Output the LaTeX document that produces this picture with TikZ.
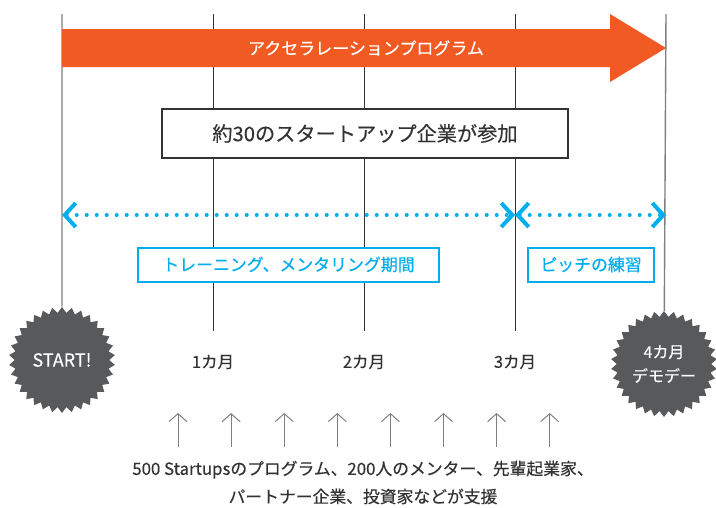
\documentclass[tikz,border=0pt]{standalone}
\usepackage{fontspec}
\setmainfont{Noto Sans CJK JP}[FakeBold=0.3]
\usetikzlibrary{arrows.meta,shapes.geometric}
\definecolor{accel}{HTML}{F15A22}
\definecolor{sky}{HTML}{00AEEF}
\definecolor{burst}{HTML}{58595B}
\definecolor{ink}{HTML}{333333}

\begin{document}
\begin{tikzpicture}[x=1pt,y=-1pt,
	tick/.style={draw=ink,line width=0.9pt},
	endtick/.style={draw=gray,line width=1.4pt},
	period/.style={sky,line width=4pt,line cap=round,dash pattern=on 0pt off 10pt,
		{Straight Barb[length=11pt,width=24pt,line width=4pt]}-{Straight Barb[length=11pt,width=24pt,line width=4pt]}},
	phase/.style={draw=sky,line width=2pt,fill=white,text=sky,minimum height=34pt,font=\fontsize{16.9}{18}\selectfont},
	burstnode/.style={star,star points=34,star point ratio=1.12,fill=burst,text=white,minimum size=106pt,inner sep=0pt,align=center,font=\fontsize{16}{24}\selectfont},
	month/.style={text=ink,font=\fontsize{16.5}{18}\selectfont},
	support/.style={draw=gray,line width=1pt,-{Straight Barb[length=8pt,width=18pt]}}]
\useasboundingbox (0,0) rectangle (716,507);

\coordinate (top0) at (62,14);
\coordinate (top1) at (213,14);
\coordinate (top2) at (364,14);
\coordinate (top3) at (515,14);
\coordinate (top4) at (666,14);
\coordinate (low1) at (213,331);
\coordinate (low2) at (364,331);
\coordinate (low3) at (515,331);

\node[burstnode,font=\fontsize{18}{20}\selectfont] (start) at (62,360) {START!};
\node[burstnode] (demo) at (664,364) {4カ月\\デモデー};

\path (top0) edge[endtick] (start)
	(top4) edge[endtick] (demo)
	(top1) edge[tick] (low1)
	(top2) edge[tick] (low2)
	(top3) edge[tick] (low3);

% program arrow
\fill[accel] (62,29) -- (610,29) -- (610,14) -- (666,48) -- (610,82) -- (610,67) -- (62,67) -- cycle;
\node[text=white,font=\fontsize{17}{18}\selectfont] (accelabel) at (366,48) {アクセラレーションプログラム};

\node[draw=ink,line width=2pt,fill=white,text=ink,minimum width=406pt,minimum height=49pt,font=\fontsize{20.2}{22}\selectfont] (join) at (365,133.5) {約30のスタートアップ企業が参加};

% periods
\coordinate (d0) at (62,215);
\coordinate (d3) at (515,215);
\coordinate (d4) at (666,215);
\path (d0) edge[period] (d3)
	(d3) edge[period] (d4);
\node[phase,minimum width=301pt] (train) at (288.5,264.5) {トレーニング、メンタリング期間};
\node[phase,minimum width=126pt] (pitch) at (591,264.5) {ピッチの練習};

\node[month] (m1) at (213,362) {1カ月};
\node[month] (m2) at (364,362) {2カ月};
\node[month] (m3) at (515,362) {3カ月};

\foreach \i in {0,...,7}
	\draw[support] (178+53.1*\i,447) coordinate (s\i) -- (178+53.1*\i,413) coordinate (h\i);

\node[text=ink,align=center,font=\fontsize{16.8}{28}\selectfont] (backing) at (363,482.5)
	{500 Startupsのプログラム、200人のメンター、先輩起業家、\\パートナー企業、投資家などが支援};
\end{tikzpicture}
\end{document}
